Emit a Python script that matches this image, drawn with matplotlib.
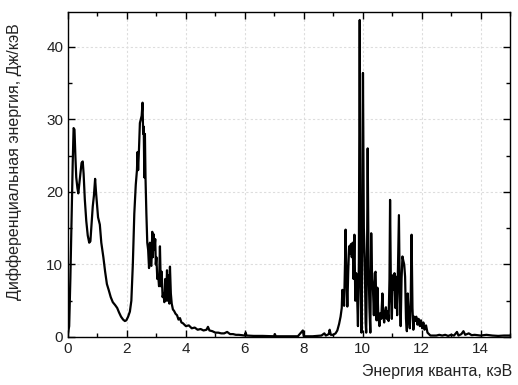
import matplotlib
matplotlib.use("Agg")
import matplotlib.pyplot as plt
from matplotlib.ticker import MultipleLocator

plt.rcParams['font.family'] = ['Liberation Sans', 'DejaVu Sans']

energy = [0.0, 0.04, 0.08, 0.12, 0.16, 0.19, 0.22, 0.25, 0.28, 0.32, 0.35, 0.38, 0.42, 0.46, 0.5,
          0.53, 0.57, 0.62, 0.67, 0.72, 0.76, 0.8, 0.84, 0.88, 0.92, 0.95, 0.98, 1.02, 1.08, 1.13,
          1.2, 1.26, 1.32, 1.38, 1.45, 1.52, 1.6, 1.67, 1.73, 1.8, 1.87, 1.93, 1.98, 2.04, 2.1,
          2.15, 2.2, 2.25, 2.3, 2.34, 2.36, 2.38, 2.41, 2.44, 2.47, 2.5, 2.53, 2.55, 2.57, 2.59,
          2.61, 2.63, 2.66, 2.69, 2.72, 2.75, 2.78, 2.8, 2.83, 2.86, 2.88, 2.9, 2.93, 2.96, 2.98,
          3.0, 3.03, 3.06, 3.09, 3.12, 3.15, 3.18, 3.21, 3.24, 3.27, 3.3, 3.33, 3.36, 3.39, 3.42,
          3.44, 3.46, 3.49, 3.52, 3.56, 3.6, 3.65, 3.7, 3.75, 3.8, 3.85, 3.9, 3.95, 4.0, 4.1,
          4.2, 4.3, 4.4, 4.5, 4.6, 4.7, 4.75, 4.8, 4.9, 5.0, 5.1, 5.2, 5.3, 5.4, 5.5,
          5.6, 5.7, 5.8, 5.9, 6.0, 6.03, 6.06, 6.3, 6.6, 7.0, 7.02, 7.05, 7.4, 7.8, 7.97,
          8.0, 8.3, 8.6, 8.7, 8.75, 8.85, 8.88, 8.92, 9.0, 9.08, 9.14, 9.2, 9.25, 9.29, 9.31,
          9.34, 9.37, 9.4, 9.42, 9.45, 9.48, 9.51, 9.54, 9.57, 9.6, 9.63, 9.66, 9.69, 9.72, 9.75,
          9.78, 9.81, 9.84, 9.87, 9.9, 9.93, 9.96, 9.99, 10.01, 10.04, 10.07, 10.1, 10.12, 10.15, 10.17,
          10.2, 10.23, 10.26, 10.29, 10.32, 10.35, 10.38, 10.41, 10.44, 10.47, 10.5, 10.53, 10.57, 10.6, 10.63,
          10.67, 10.7, 10.73, 10.76, 10.79, 10.82, 10.85, 10.88, 10.91, 10.93, 10.96, 10.99, 11.02, 11.05, 11.08,
          11.11, 11.14, 11.17, 11.2, 11.23, 11.26, 11.29, 11.32, 11.35, 11.38, 11.41, 11.44, 11.47, 11.5, 11.53,
          11.56, 11.6, 11.63, 11.66, 11.69, 11.72, 11.75, 11.78, 11.82, 11.86, 11.9, 11.94, 11.98, 12.02, 12.06,
          12.1, 12.15, 12.2, 12.25, 12.3, 12.5, 12.6, 12.7, 12.8, 12.9, 13.0, 13.1, 13.2, 13.25, 13.35,
          13.42, 13.48, 13.6, 13.7, 13.8, 14.0, 14.2, 14.4, 14.6, 14.8, 15.0]

diff_energy = [0.5, 1.5, 8, 16, 24, 28.8, 28.6, 25, 22, 20.5, 19.8, 21, 22.5, 24, 24.2,
               22.5, 19, 16, 14, 13, 13.2, 15.5, 18, 19.5, 21.8, 20, 18.5, 16.5, 15.5, 13,
               11, 9, 7.3, 6.5, 5.5, 4.8, 4.4, 4.0, 3.4, 2.8, 2.4, 2.2, 2.3, 2.8, 3.5,
               5, 10, 17, 21, 23, 25.5, 23, 26, 29.5, 30, 30.5, 32.3, 28, 29, 22,
               28, 22, 17, 13, 12, 9.5, 13, 10, 9.8, 14.5, 11, 14.2, 12, 13.5, 10,
               11, 8, 8.5, 7, 12.5, 7, 9, 5.5, 6, 4.8, 8, 5, 9.2, 5, 8.5,
               4.6, 9.7, 6, 4.6, 3.8, 3.6, 3.2, 3.0, 2.4, 2.6, 2.0, 1.9, 1.7, 1.5, 1.6,
               1.2, 1.3, 1.0, 1.1, 0.9, 1.0, 1.4, 0.9, 0.8, 0.6, 0.6, 0.5, 0.5, 0.7, 0.4,
               0.4, 0.3, 0.3, 0.25, 0.2, 0.6, 0.2, 0.15, 0.15, 0.1, 0.4, 0.1, 0.1, 0.1, 0.9,
               0.1, 0.1, 0.2, 0.5, 0.2, 0.4, 1.0, 0.3, 0.3, 0.5, 0.9, 1.8, 2.8, 4, 6.5,
               5.5, 4.3, 10, 14.8, 8, 4.2, 9, 12.5, 11.5, 12.8, 11, 13, 8, 14.1, 5,
               8.8, 6, 1.5, 10, 43.7, 8, 0.6, 12, 36.4, 15, 11, 2, 0.6, 12, 26,
               9.7, 4, 0.6, 14.3, 8, 6.5, 3, 8.8, 9, 2.3, 6.8, 3, 1.5, 3.3, 2.5,
               6, 3, 2, 3.5, 4.1, 2.5, 3.5, 2.2, 8, 18.9, 6, 2.5, 8.5, 6.5, 8.8,
               4, 8.3, 3, 10, 16.8, 6, 1.5, 8, 11.1, 10.5, 10, 8.3, 2.5, 0.8, 6,
               3, 1.2, 5, 14.1, 4, 1, 2.8, 2.2, 2.8, 1.7, 2.5, 1.5, 2.3, 1.2, 2.0,
               1.0, 1.6, 0.6, 0.4, 0.2, 0.2, 0.3, 0.2, 0.3, 0.15, 0.3, 0.2, 0.7, 0.2, 0.4,
               0.8, 0.3, 0.5, 0.25, 0.3, 0.2, 0.3, 0.2, 0.15, 0.2, 0.2]

x_label = "Энергия кванта, кэВ"
y_label = "Дифференциальная энергия, Дж/кэВ"

fig = plt.figure(figsize=(5.18, 3.85), dpi=100)
ax = fig.add_axes([68/518, 1-337/385, 442/518, 325/385])

ax.plot(energy, diff_energy, color='black', lw=1.6)
ax.set_xlim(0, 15)
ax.set_ylim(0, 44.8)
ax.xaxis.set_major_locator(MultipleLocator(2))
ax.xaxis.set_minor_locator(MultipleLocator(1))
ax.yaxis.set_major_locator(MultipleLocator(10))
ax.yaxis.set_minor_locator(MultipleLocator(5))
ax.tick_params(which='both', direction='in', top=True, right=True, labelsize=11,
               labelcolor='#222222', width=1.0)
ax.tick_params(which='major', length=5)
ax.tick_params(which='minor', length=3)
ax.grid(True, which='major', color='#dddddd', linestyle=(0, (2, 2)), lw=0.8)
for s in ax.spines.values():
    s.set_linewidth(1.0)

ax.set_xlabel(x_label, fontsize=11.5, loc='right', color='#222222')
ax.xaxis.set_label_coords(1.005, -0.082)
ax.set_ylabel(y_label, fontsize=11.5, color='#222222')
ax.yaxis.set_label_coords(-0.104, 0.54)

fig.savefig("out.png", dpi=100)
